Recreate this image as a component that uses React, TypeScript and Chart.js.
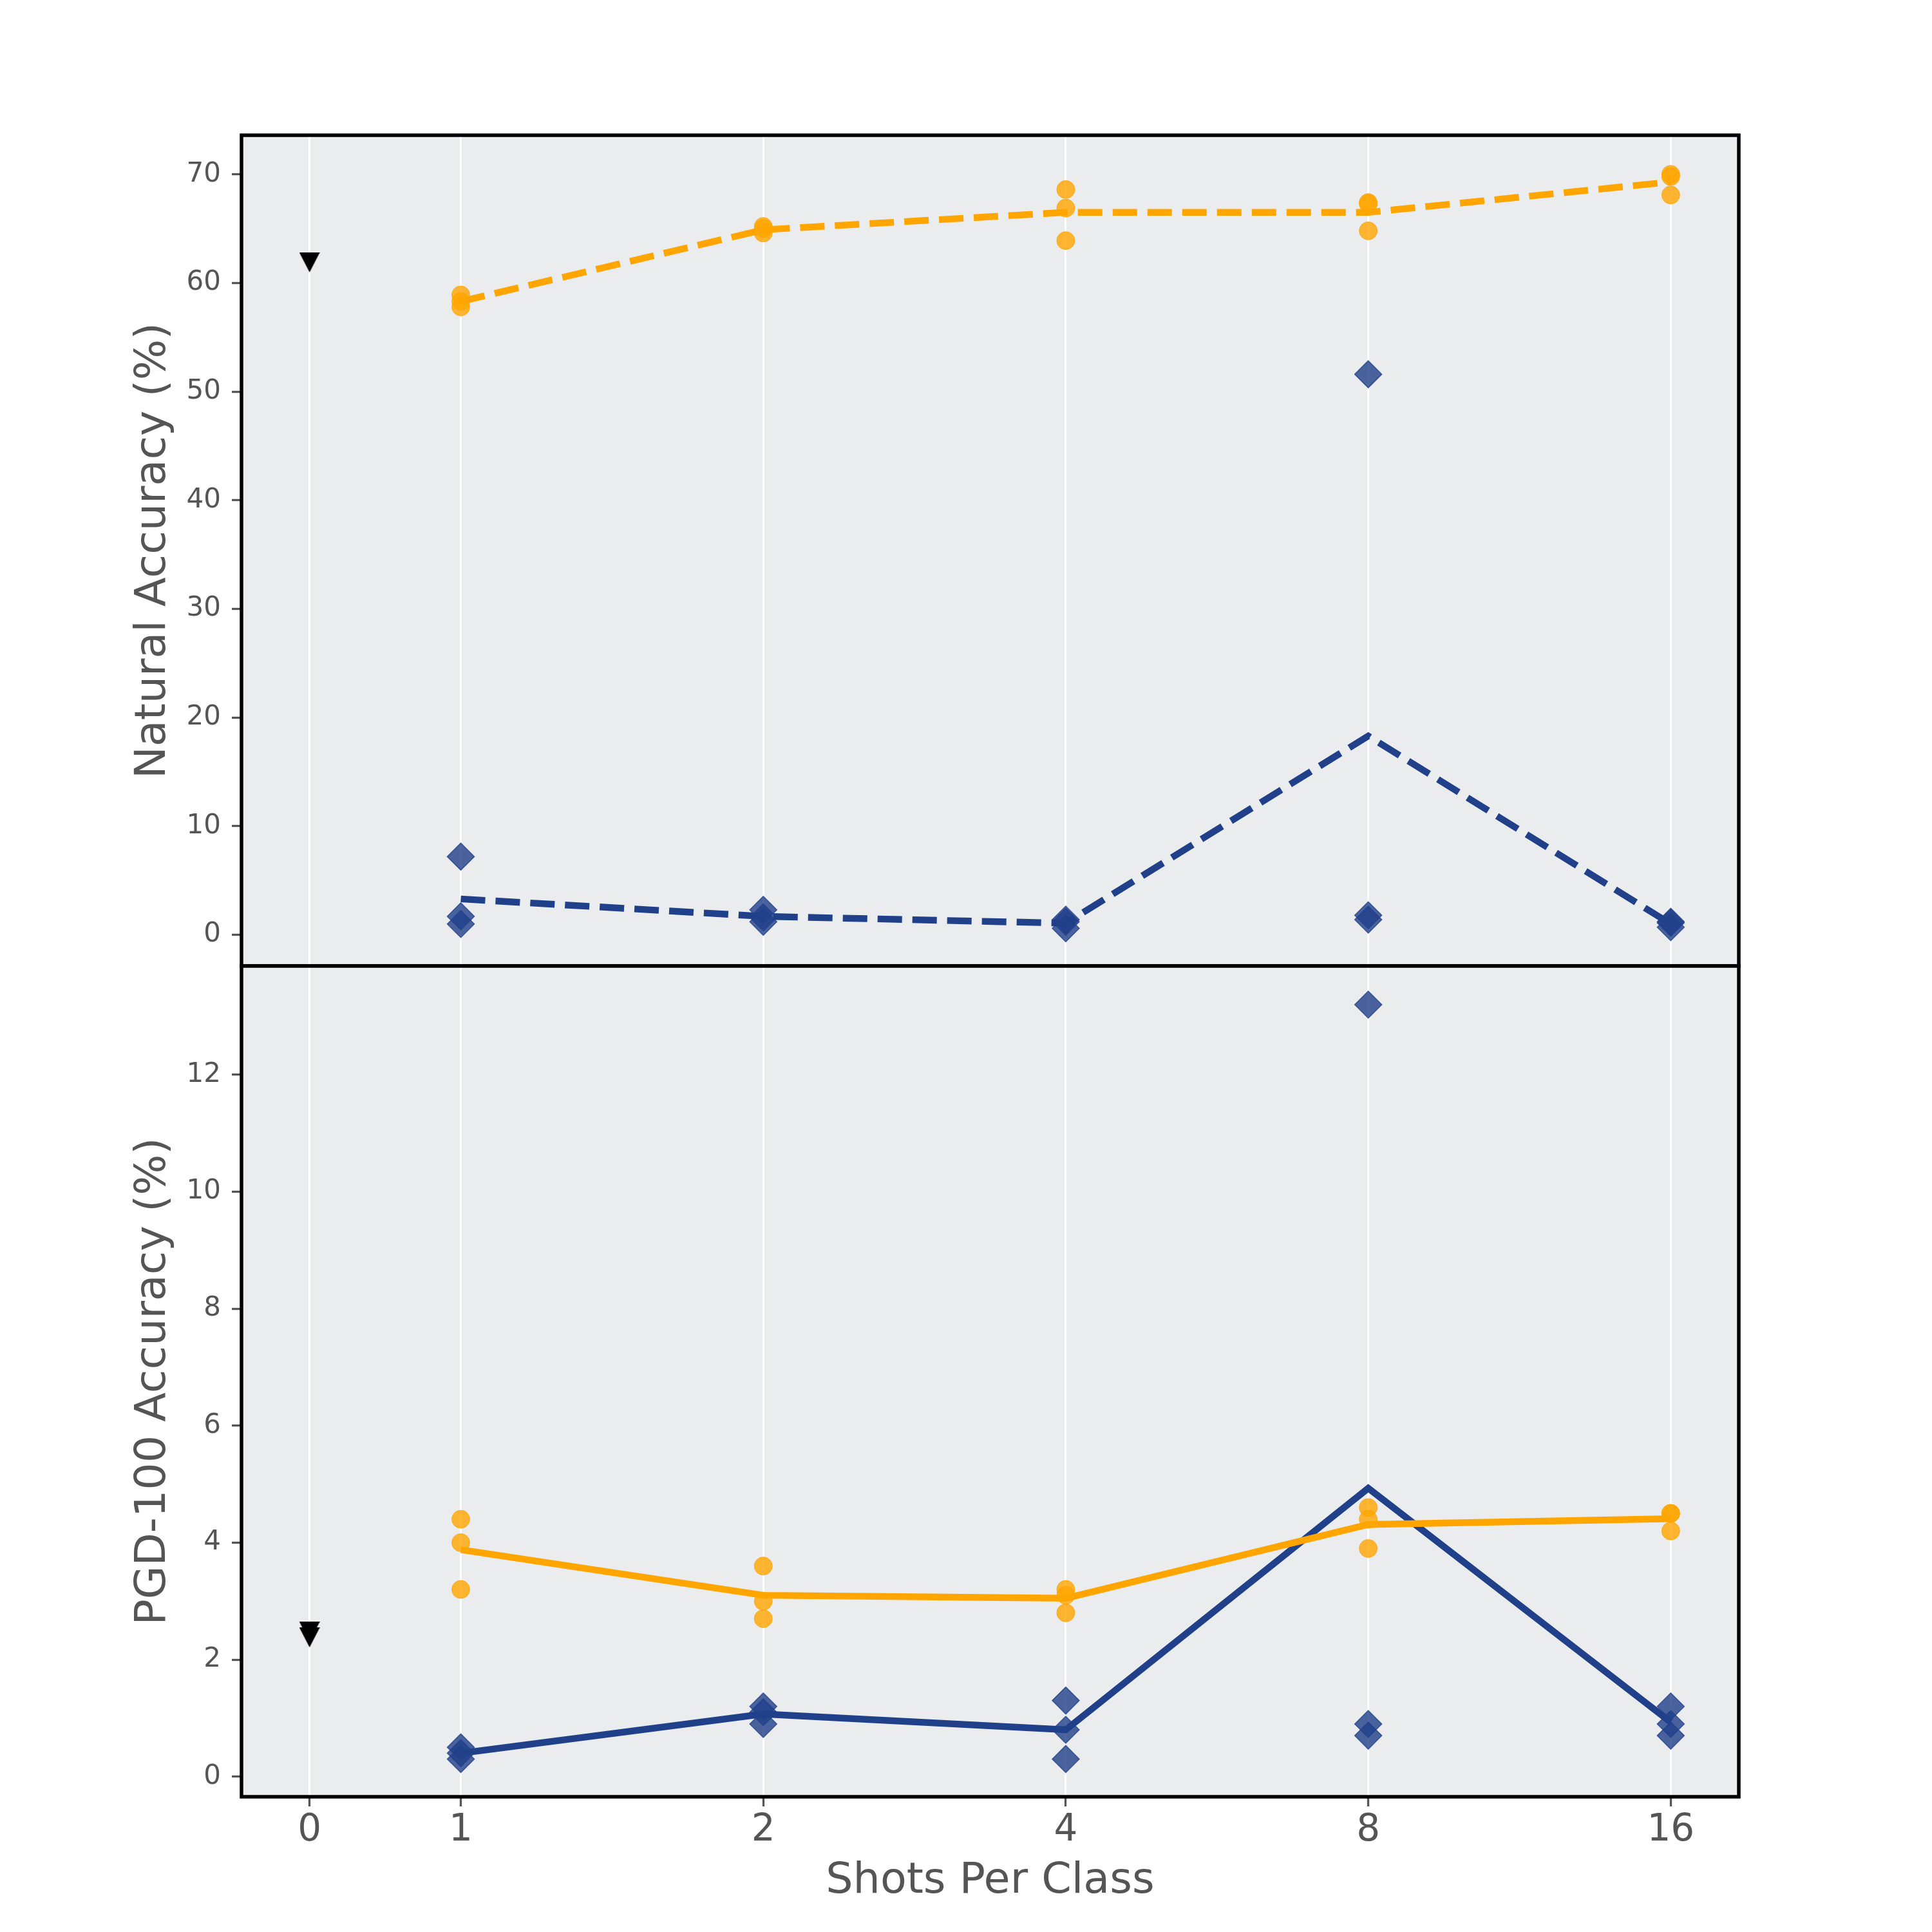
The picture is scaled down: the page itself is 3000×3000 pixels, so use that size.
import React, { useEffect, useRef } from "react";
import { Chart, registerables } from "chart.js";

Chart.register(...registerables);

// x axis: shot counts, 0 sits half a step left of 1, the rest on a log2 spacing
const SHOT_LABELS = ["0", "1", "2", "4", "8", "16"];
const SHOT_POS = [-0.5, 0, 1, 2, 3, 4];

// Natural accuracy (%), three runs for 1, 2, 4, 8, 16 shots
const NAT_ORANGE_RUNS = [
  [58.9, 58.3, 57.8],
  [65.2, 65.0, 64.6],
  [68.6, 66.9, 63.9],
  [67.4, 67.3, 64.8],
  [70.0, 69.8, 68.1],
];
const NAT_ORANGE_MEAN = [58.3, 64.9, 66.5, 66.5, 69.3];
const NAT_BLUE_RUNS = [
  [7.2, 1.7, 1.0],
  [2.3, 1.6, 1.2],
  [1.4, 1.2, 0.6],
  [51.6, 1.8, 1.4],
  [1.2, 1.1, 0.7],
];
const NAT_BLUE_MEAN = [3.3, 1.7, 1.07, 18.3, 1.0];
const NAT_ZERO_SHOT = [61.9];

// PGD-100 accuracy (%)
const PGD_ORANGE_RUNS = [
  [4.4, 4.0, 3.2],
  [3.6, 3.0, 2.7],
  [3.2, 3.1, 2.8],
  [4.6, 4.4, 3.9],
  [4.5, 4.5, 4.2],
];
const PGD_ORANGE_MEAN = [3.88, 3.1, 3.05, 4.31, 4.41];
const PGD_BLUE_RUNS = [
  [0.5, 0.4, 0.3],
  [1.2, 1.1, 0.9],
  [1.3, 0.8, 0.3],
  [13.2, 0.9, 0.7],
  [1.2, 0.9, 0.7],
];
const PGD_BLUE_MEAN = [0.4, 1.07, 0.8, 4.93, 0.93];
const PGD_ZERO_SHOT = [2.48, 2.38];

const NAT_TICKS = [0, 10, 20, 30, 40, 50, 60, 70];
const PGD_TICKS = [0, 2, 4, 6, 8, 10, 12];

const FONT = "'DejaVu Sans', sans-serif";
const TEXT = "#555555";
const BG = "#EBECEE";
const ORANGE = "#FFA500";
const ORANGE_A = "rgba(255, 165, 0, 0.8)";
const NAVY = "#20408A";
const NAVY_A = "rgba(32, 64, 138, 0.8)";

const runsToPoints = (runs: number[][]) =>
  runs.flatMap((vals, i) => vals.map((v) => ({ x: SHOT_POS[i + 1], y: v })));

const meanToPoints = (mean: number[]) =>
  mean.map((v, i) => ({ x: SHOT_POS[i + 1], y: v }));

const panelFrame = {
  id: "panelFrame",
  beforeDraw(chart: any) {
    const { ctx, chartArea: a } = chart;
    ctx.save();
    ctx.fillStyle = BG;
    ctx.fillRect(a.left, a.top, a.right - a.left, a.bottom - a.top);
    ctx.restore();
  },
  afterDraw(chart: any) {
    const { ctx, chartArea: a } = chart;
    ctx.save();
    ctx.strokeStyle = "#000000";
    ctx.lineWidth = 5.5;
    ctx.strokeRect(a.left, a.top, a.right - a.left, a.bottom - a.top);
    ctx.restore();
  },
};

interface PanelSpec {
  orangeRuns: number[][];
  orangeMean: number[];
  blueRuns: number[][];
  blueMean: number[];
  zeroShot: number[];
  dashed: boolean;
  yTitle: string;
  yMin: number;
  yMax: number;
  yTicks: number[];
  showX: boolean;
  padding: { left: number; right: number; top: number; bottom: number };
}

function buildChart(canvas: HTMLCanvasElement, p: PanelSpec, tri: HTMLCanvasElement) {
  const dash = p.dashed ? [38, 16] : [];
  return new Chart(canvas, {
    type: "scatter",
    data: {
      datasets: [
        {
          data: meanToPoints(p.orangeMean),
          showLine: true,
          borderColor: ORANGE,
          backgroundColor: ORANGE,
          borderWidth: 10.4,
          borderDash: dash,
          borderJoinStyle: "miter",
          pointRadius: 0,
          order: 0,
        },
        {
          data: meanToPoints(p.blueMean),
          showLine: true,
          borderColor: NAVY,
          backgroundColor: NAVY,
          borderWidth: 10.4,
          borderDash: dash,
          borderJoinStyle: "miter",
          pointRadius: 0,
          order: 0,
        },
        {
          data: runsToPoints(p.orangeRuns),
          pointStyle: "circle",
          pointRadius: 14,
          backgroundColor: ORANGE_A,
          borderColor: ORANGE_A,
          pointBorderWidth: 1,
          order: 1,
        },
        {
          data: runsToPoints(p.blueRuns),
          pointStyle: "rectRot",
          pointRadius: 21,
          backgroundColor: NAVY_A,
          borderColor: NAVY_A,
          pointBorderWidth: 1.5,
          order: 1,
        },
        {
          data: p.zeroShot.map((v) => ({ x: SHOT_POS[0], y: v })),
          pointStyle: tri,
          pointRadius: 16,
          backgroundColor: "#000000",
          borderColor: "#000000",
          order: 1,
        },
      ] as any,
    },
    options: {
      responsive: false,
      devicePixelRatio: 1,
      animation: false,
      events: [],
      layout: { padding: p.padding },
      plugins: {
        legend: { display: false },
        tooltip: { enabled: false },
      },
      scales: {
        x: {
          type: "linear",
          min: -0.725,
          max: 4.225,
          afterBuildTicks: (s: any) => {
            s.ticks = SHOT_POS.map((v) => ({ value: v }));
          },
          afterFit: (s: any) => {
            s.height = p.showX ? 210 : 0;
          },
          ticks: {
            display: p.showX,
            autoSkip: false,
            maxRotation: 0,
            padding: 3,
            color: TEXT,
            font: { family: FONT, size: 58 },
            callback: (_v: any, i: number) => SHOT_LABELS[i],
          },
          grid: {
            color: "#ffffff",
            lineWidth: 3,
            drawTicks: p.showX,
            tickLength: 15,
            tickColor: TEXT,
            tickWidth: 3.3,
          },
          border: { display: false },
          title: {
            display: p.showX,
            text: "Shots Per Class",
            color: TEXT,
            font: { family: FONT, size: 66.7 },
            padding: { top: 0, bottom: 38 },
          },
        },
        y: {
          type: "linear",
          min: p.yMin,
          max: p.yMax,
          afterBuildTicks: (s: any) => {
            s.ticks = p.yTicks.map((v) => ({ value: v }));
          },
          afterFit: (s: any) => {
            s.width = 375;
          },
          ticks: {
            padding: 17,
            color: TEXT,
            font: { family: FONT, size: 42 },
            callback: (v: any) => String(v),
          },
          grid: {
            drawOnChartArea: false,
            drawTicks: true,
            tickLength: 15,
            tickColor: TEXT,
            tickWidth: 3.3,
            color: TEXT,
          },
          border: { display: false },
          title: {
            display: true,
            text: p.yTitle,
            color: TEXT,
            font: { family: FONT, size: 66.7 },
            padding: { top: 199, bottom: 0 },
          },
        },
      },
    } as any,
    plugins: [panelFrame],
  });
}

const App: React.FC = () => {
  const topRef = useRef<HTMLCanvasElement>(null);
  const bottomRef = useRef<HTMLCanvasElement>(null);

  useEffect(() => {
    if (!topRef.current || !bottomRef.current) return;

    // downward triangle marker for the zero-shot result
    const tri = document.createElement("canvas");
    tri.width = 32;
    tri.height = 31;
    const tctx = tri.getContext("2d");
    if (tctx) {
      tctx.fillStyle = "#000000";
      tctx.beginPath();
      tctx.moveTo(0, 0);
      tctx.lineTo(32, 0);
      tctx.lineTo(16, 31);
      tctx.closePath();
      tctx.fill();
    }

    const top = buildChart(
      topRef.current,
      {
        orangeRuns: NAT_ORANGE_RUNS,
        orangeMean: NAT_ORANGE_MEAN,
        blueRuns: NAT_BLUE_RUNS,
        blueMean: NAT_BLUE_MEAN,
        zeroShot: NAT_ZERO_SHOT,
        dashed: true,
        yTitle: "Natural Accuracy (%)",
        yMin: -2.87,
        yMax: 73.6,
        yTicks: NAT_TICKS,
        showX: false,
        padding: { left: 0, right: 300, top: 210, bottom: 120 },
      },
      tri
    );
    const bottom = buildChart(
      bottomRef.current,
      {
        orangeRuns: PGD_ORANGE_RUNS,
        orangeMean: PGD_ORANGE_MEAN,
        blueRuns: PGD_BLUE_RUNS,
        blueMean: PGD_BLUE_MEAN,
        zeroShot: PGD_ZERO_SHOT,
        dashed: false,
        yTitle: "PGD-100 Accuracy (%)",
        yMin: -0.345,
        yMax: 13.86,
        yTicks: PGD_TICKS,
        showX: true,
        padding: { left: 0, right: 300, top: 120, bottom: 0 },
      },
      tri
    );

    return () => {
      top.destroy();
      bottom.destroy();
    };
  }, []);

  return (
    <div
      style={{
        position: "absolute",
        left: 0,
        top: 0,
        width: 3000,
        height: 3000,
        background: "#ffffff",
      }}
    >
      <canvas
        ref={topRef}
        width={3000}
        height={1620}
        style={{ position: "absolute", left: 0, top: 0, width: 3000, height: 1620 }}
      ></canvas>
      <canvas
        ref={bottomRef}
        width={3000}
        height={1620}
        style={{ position: "absolute", left: 0, top: 1380, width: 3000, height: 1620 }}
      ></canvas>
    </div>
  );
};

export default App;
